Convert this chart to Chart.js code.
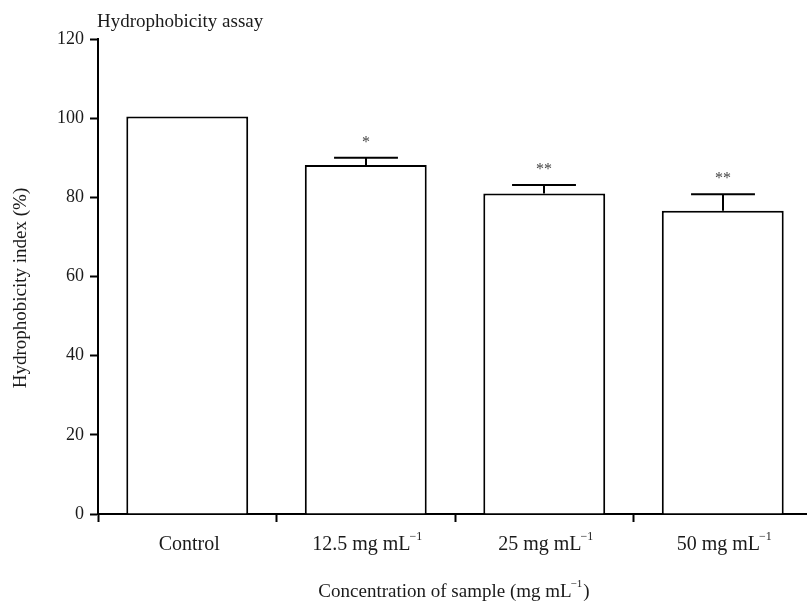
<!DOCTYPE html>
<html>
<head>
<meta charset="UTF-8">
<title>Hydrophobicity assay</title>
<script src="https://cdn.jsdelivr.net/npm/chart.js@4.4.1/dist/chart.umd.min.js"></script>
<style>
  html, body { margin: 0; padding: 0; background: #fff; overflow: hidden; }
  /* the x axis runs a few pixels past the right edge, like the original */
  #wrap { width: 812px; height: 603px; position: relative; }
</style>
</head>
<body>
<div id="wrap"><canvas id="chart"></canvas></div>
<script>
// values
var categories = ['Control', '12.5 mg mL^−1', '25 mg mL^−1', '50 mg mL^−1'];
var means      = [100.4, 88.2, 81.0, 76.6];
var errors     = [0, 1.8, 2.1, 4.2];
var stars      = ['', '*', '**', '**'];
var yTicks     = [0, 20, 40, 60, 80, 100, 120];

var chartTitle = 'Hydrophobicity assay';
var yTitle     = 'Hydrophobicity index (%)';
var xTitle     = 'Concentration of sample (mg mL^−1)';

var FONT = '"Liberation Serif", "Times New Roman", serif';
var INK  = '#1a1a1a';

// draws "base^sup" centred on x, with the part after ^ raised
function drawSupText(ctx, text, x, y, size) {
    var parts = text.split('^');
    var base = parts[0], sup = parts[1] || '', tail = '';
    // a closing bracket after the superscript goes back to normal size
    var m = sup.match(/^([^)]*)(\).*)$/);
    if (m) { sup = m[1]; tail = m[2]; }
    var supSize = Math.round(size * 0.6);
    ctx.font = size + 'px ' + FONT;
    var wb = ctx.measureText(base).width;
    var wt = ctx.measureText(tail).width;
    ctx.font = supSize + 'px ' + FONT;
    var ws = ctx.measureText(sup).width;
    var left = x - (wb + ws + wt) / 2;
    ctx.textAlign = 'left';
    ctx.textBaseline = 'middle';
    ctx.fillStyle = INK;
    ctx.font = size + 'px ' + FONT;
    ctx.fillText(base, left, y);
    ctx.font = supSize + 'px ' + FONT;
    ctx.fillText(sup, left + wb - 1, y - size * 0.4);
    ctx.font = size + 'px ' + FONT;
    ctx.fillText(tail, left + wb + ws, y);
}

var extras = {
    id: 'extras',
    afterDatasetsDraw: function (chart) {
        var ctx = chart.ctx;
        var ys = chart.scales.y;
        var meta = chart.getDatasetMeta(0);
        ctx.save();
        ctx.strokeStyle = '#000';
        ctx.lineWidth = 2;
        meta.data.forEach(function (bar, i) {
            var x = Math.round(bar.x);
            var top = ys.getPixelForValue(means[i] + errors[i]);
            if (errors[i] > 0) {
                var half = bar.width * 0.262;
                ctx.beginPath();
                ctx.moveTo(x, bar.y);
                ctx.lineTo(x, top);
                ctx.moveTo(x - half, top);
                ctx.lineTo(x + half, top);
                ctx.stroke();
            }
            if (stars[i]) {
                ctx.font = '16px ' + FONT;
                ctx.fillStyle = '#444';
                ctx.textAlign = 'center';
                ctx.textBaseline = 'alphabetic';
                ctx.fillText(stars[i], x, top - 11);
            }
        });
        ctx.restore();
    },
    afterDraw: function (chart) {
        var ctx = chart.ctx;
        var xs = chart.scales.x;
        ctx.save();
        categories.forEach(function (c, i) {
            drawSupText(ctx, c, xs.getPixelForValue(i) + 2, 545, 20);
        });
        drawSupText(ctx, xTitle, 454, 592, 19);

        ctx.font = '19px ' + FONT;
        ctx.fillStyle = INK;
        ctx.textAlign = 'left';
        ctx.textBaseline = 'middle';
        ctx.fillText(chartTitle, 97, 22);

        ctx.translate(21, 288);
        ctx.rotate(-Math.PI / 2);
        ctx.textAlign = 'center';
        ctx.fillText(yTitle, 0, 0);
        ctx.restore();
    }
};

new Chart(document.getElementById('chart'), {
    type: 'bar',
    data: {
        labels: categories,
        datasets: [{
            data: means,
            backgroundColor: '#fff',
            borderColor: '#000',
            borderWidth: 2,
            categoryPercentage: 1,
            barPercentage: 0.683
        }]
    },
    options: {
        responsive: true,
        maintainAspectRatio: false,
        animation: false,
        layout: { padding: { top: 39, right: 0, left: 0, bottom: 0 } },
        plugins: {
            legend: { display: false },
            tooltip: { enabled: false },
            title: { display: false }
        },
        scales: {
            x: {
                grid: {
                    display: true,
                    drawOnChartArea: false,
                    drawTicks: true,
                    tickLength: 8,
                    tickWidth: 2,
                    tickColor: '#000',
                    offset: true
                },
                border: { display: true, color: '#000', width: 2 },
                ticks: { display: false },
                afterFit: function (scale) { scale.height = 89; }
            },
            y: {
                min: yTicks[0],
                max: yTicks[yTicks.length - 1],
                afterBuildTicks: function (scale) {
                    scale.ticks = yTicks.map(function (v) { return { value: v }; });
                },
                grid: {
                    display: true,
                    drawOnChartArea: false,
                    drawTicks: true,
                    tickLength: 8,
                    tickWidth: 2,
                    tickColor: '#000'
                },
                border: { display: true, color: '#000', width: 2 },
                ticks: {
                    padding: 6,
                    color: INK,
                    font: { family: FONT, size: 18 }
                },
                afterFit: function (scale) { scale.width = 98; }
            }
        }
    },
    plugins: [extras]
});
</script>
</body>
</html>
